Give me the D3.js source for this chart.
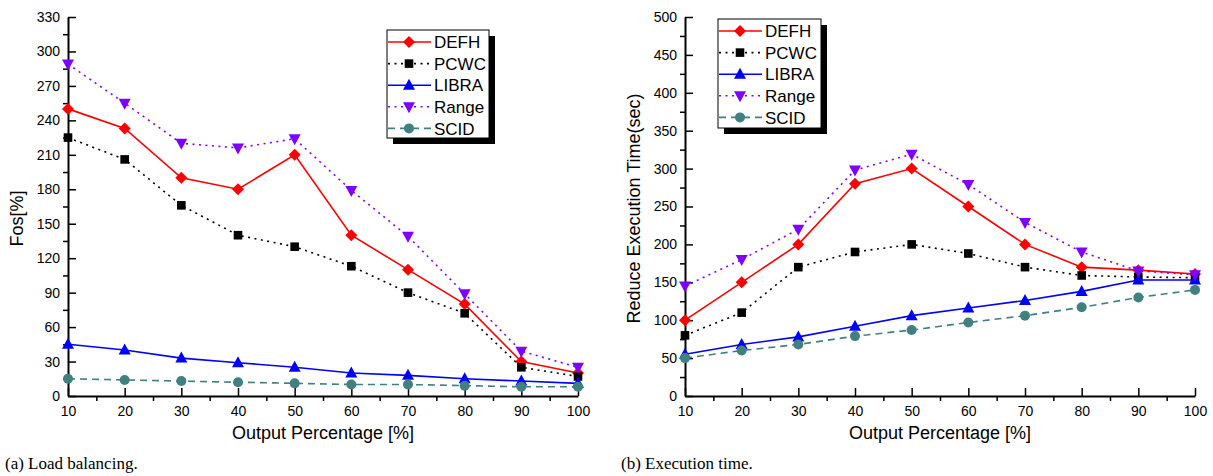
<!DOCTYPE html>
<html>
<head>
<meta charset="utf-8">
<script src="https://cdn.jsdelivr.net/npm/d3@7"></script>
<style>
  html, body { margin: 0; padding: 0; background: #fff; }
  svg { display: block; }
  text { font-family: "Liberation Sans", Arial, sans-serif; fill: #000; }
  text.caption { font-family: "Liberation Serif", "DejaVu Serif", serif; }
</style>
</head>
<body>
<svg id="chart" width="1213" height="476"></svg>
<script>
// ---------------- DATA ----------------
const outputPercentage = [10, 20, 30, 40, 50, 60, 70, 80, 90, 100];
const seriesNames = ["DEFH", "PCWC", "LIBRA", "Range", "SCID"];

// (a) Load balancing — Fos[%]
const fosDEFH  = [250, 233, 190, 180, 210, 140, 110, 80, 30, 20];
const fosPCWC  = [225, 206, 166, 140, 130, 113, 90, 72, 25, 17];
const fosLIBRA = [45, 40, 33, 29, 25, 20, 18, 15, 13, 11];
const fosRange = [289, 255, 220, 216, 224, 179, 139, 89, 39, 25];
const fosSCID  = [15, 14, 13, 12, 11, 10, 10, 9, 8, 8];
const fosTicks = [0, 30, 60, 90, 120, 150, 180, 210, 240, 270, 300, 330];

// (b) Execution time — Reduce Execution Time(sec)
const timeDEFH  = [100, 150, 200, 280, 300, 250, 200, 170, 166, 161];
const timePCWC  = [80, 110, 170, 190, 200, 188, 170, 159, 157, 156];
const timeLIBRA = [55, 68, 78, 92, 106, 116, 126, 138, 153, 153];
const timeRange = [145, 180, 220, 298, 319, 279, 229, 190, 165, 160];
const timeSCID  = [50, 60, 68, 79, 87, 97, 106, 117, 130, 140];
const timeTicks = [0, 50, 100, 150, 200, 250, 300, 350, 400, 450, 500];

const xTicks = [10, 20, 30, 40, 50, 60, 70, 80, 90, 100];

// ---------------- STYLES ----------------
const styles = {
  DEFH:  { color: "#ff0000", dash: null,      marker: "diamond" },
  PCWC:  { color: "#000000", dash: "2,4.5",   marker: "square" },
  LIBRA: { color: "#0000ff", dash: null,      marker: "triUp" },
  Range: { color: "#8000ff", dash: "2,4.5",   marker: "triDown" },
  SCID:  { color: "#408080", dash: "7,5",     marker: "circle" }
};

function markerPath(type) {
  switch (type) {
    case "diamond": return "M0,-6L6,0L0,6L-6,0Z";
    case "square":  return "M-4.3,-4.3H4.3V4.3H-4.3Z";
    case "triUp":   return "M0,-6.5L6,4.5L-6,4.5Z";
    case "triDown": return "M0,6.5L6,-4.5L-6,-4.5Z";
    case "circle":  return d3.symbol(d3.symbolCircle, Math.PI * 25)();
  }
}

const svg = d3.select("#chart");
svg.append("rect").attr("width", 1213).attr("height", 476).attr("fill", "#fff");

function drawChart(cfg) {
  const g = svg.append("g");
  const x = d3.scaleLinear().domain([10, 100]).range([cfg.x0, cfg.x1]);
  const y = d3.scaleLinear().domain(cfg.yDomain).range([cfg.yBottom, cfg.yTop]);

  // minor ticks (outward)
  const yMinor = [];
  for (let i = 0; i < cfg.yTicks.length - 1; i++) yMinor.push((cfg.yTicks[i] + cfg.yTicks[i + 1]) / 2);
  const xMinor = [];
  for (let i = 0; i < xTicks.length - 1; i++) xMinor.push((xTicks[i] + xTicks[i + 1]) / 2);

  g.append("g").attr("transform", `translate(${cfg.x0},0)`)
    .call(d3.axisLeft(y).tickValues(yMinor).tickSize(5).tickFormat(""))
    .call(a => a.select(".domain").remove())
    .selectAll("line").attr("stroke", "#000").attr("stroke-width", 1.5);
  g.append("g").attr("transform", `translate(0,${cfg.yBottom})`)
    .call(d3.axisBottom(x).tickValues(xMinor).tickSize(5).tickFormat(""))
    .call(a => a.select(".domain").remove())
    .selectAll("line").attr("stroke", "#000").attr("stroke-width", 1.5);

  // major axes (ticks inward)
  const yAxis = g.append("g").attr("transform", `translate(${cfg.x0},0)`)
    .call(d3.axisLeft(y).tickValues(cfg.yTicks).tickSizeInner(-8).tickSizeOuter(0).tickPadding(8));
  const xAxis = g.append("g").attr("transform", `translate(0,${cfg.yBottom})`)
    .call(d3.axisBottom(x).tickValues(xTicks).tickSizeInner(-8).tickSizeOuter(0).tickPadding(10));
  [yAxis, xAxis].forEach(a => {
    a.select(".domain").attr("stroke", "#000").attr("stroke-width", 2);
    a.selectAll(".tick line").attr("stroke", "#000").attr("stroke-width", 1.5);
    a.selectAll(".tick text").attr("font-size", 14).attr("fill", "#000");
  });

  // series
  const line = d3.line().x((d, i) => x(outputPercentage[i])).y(d => y(d));
  seriesNames.forEach((name, si) => {
    const st = styles[name];
    const vals = cfg.data[si];
    g.append("path").datum(vals).attr("d", line)
      .attr("fill", "none").attr("stroke", st.color).attr("stroke-width", 1.6)
      .attr("stroke-dasharray", st.dash);
    g.selectAll(null).data(vals).enter().append("path")
      .attr("d", markerPath(st.marker))
      .attr("transform", (d, i) => `translate(${x(outputPercentage[i])},${y(d)})`)
      .attr("fill", st.color);
  });

  // axis titles
  g.append("text").attr("transform", `translate(${cfg.titleX},${(cfg.yTop + cfg.yBottom) / 2 + cfg.titleDY}) rotate(-90)`)
    .attr("text-anchor", "middle").attr("font-size", 18).text(cfg.yTitle);
  g.append("text").attr("x", (cfg.x0 + cfg.x1) / 2).attr("y", cfg.yBottom + 43)
    .attr("text-anchor", "middle").attr("font-size", 18).text("Output Percentage [%]");

  // legend
  const L = cfg.legend;
  g.append("rect").attr("x", L.x + 6).attr("y", L.y + 6).attr("width", L.w).attr("height", L.h).attr("fill", "#000");
  g.append("rect").attr("x", L.x).attr("y", L.y).attr("width", L.w).attr("height", L.h)
    .attr("fill", "#fff").attr("stroke", "#000").attr("stroke-width", 1);
  seriesNames.forEach((name, i) => {
    const st = styles[name];
    const cy = L.y + 12 + i * 21.6;
    g.append("line").attr("x1", L.x + 1).attr("x2", L.x + 44).attr("y1", cy).attr("y2", cy)
      .attr("stroke", st.color).attr("stroke-width", 1.6).attr("stroke-dasharray", st.dash);
    g.append("path").attr("d", markerPath(st.marker)).attr("transform", `translate(${L.x + 22},${cy})`).attr("fill", st.color);
    g.append("text").attr("x", L.x + 47).attr("y", cy).attr("dy", "0.36em").attr("font-size", 17).text(name);
  });

  // caption
  g.append("text").attr("class", "caption").attr("x", cfg.capX).attr("y", 469)
    .attr("font-size", 17).text(cfg.caption);
}

drawChart({
  x0: 68, x1: 578, yTop: 17, yBottom: 396, yDomain: [0, 330], yTicks: fosTicks,
  data: [fosDEFH, fosPCWC, fosLIBRA, fosRange, fosSCID],
  yTitle: "Fos[%]", titleX: 23, titleDY: 12,
  legend: { x: 387, y: 30, w: 102, h: 108 },
  caption: "(a) Load balancing.", capX: 5
});
drawChart({
  x0: 685, x1: 1195, yTop: 17, yBottom: 396, yDomain: [0, 500], yTicks: timeTicks,
  data: [timeDEFH, timePCWC, timeLIBRA, timeRange, timeSCID],
  yTitle: "Reduce Execution Time(sec)", titleX: 640, titleDY: 2,
  legend: { x: 718, y: 19, w: 103, h: 109 },
  caption: "(b) Execution time.", capX: 621
});
</script>
</body>
</html>
